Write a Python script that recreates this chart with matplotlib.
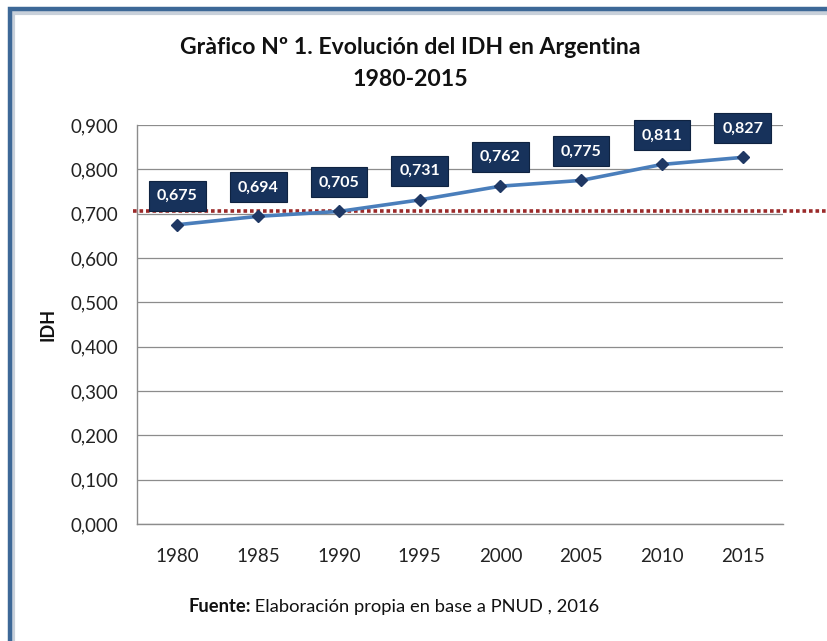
import numpy as np
import matplotlib
matplotlib.use("Agg")
import matplotlib.pyplot as plt
import matplotlib.patches as ptch
from matplotlib.ticker import FuncFormatter

# Datos: IDH de Argentina
anios = ["1980", "1985", "1990", "1995", "2000", "2005", "2010", "2015"]
idh = [0.675, 0.694, 0.705, 0.731, 0.762, 0.775, 0.811, 0.827]
umbral = 0.706
yticks = [0.0, 0.1, 0.2, 0.3, 0.4, 0.5, 0.6, 0.7, 0.8, 0.9]

plt.rcParams['font.family'] = ['Lato', 'DejaVu Sans']

W, H = 827, 641
fig = plt.figure(figsize=(W / 100, H / 100), dpi=100)

# Marco del gráfico (borde azul, se corta a la derecha y abajo)
sombra = ptch.Rectangle((13 / W, -0.1), 1.2, 1 - 13 / H + 0.1, transform=fig.transFigure,
                        fill=False, edgecolor='#c8d0da', linewidth=3, zorder=0)
fig.add_artist(sombra)
marco = ptch.Rectangle((10 / W, -0.1), 1.2, 1 - 9 / H + 0.1, transform=fig.transFigure,
                       fill=False, edgecolor='#3d6897', linewidth=3.2, zorder=1)
fig.add_artist(marco)

ax = fig.add_axes([137 / W, 1 - 524 / H, (783 - 137) / W, (524 - 125) / H])
x = np.arange(len(anios))

ax.plot(x, idh, color='#4a7ebb', linewidth=2.6, marker='D', markersize=6.5,
        markerfacecolor='#1f3864', markeredgecolor='#1f3864', zorder=4)

# Línea de referencia punteada
ax.axhline(umbral, xmin=-0.006, xmax=1.1, clip_on=False, color='#9b2a2a',
           linewidth=2.6, linestyle=(0, (1, 0.8)), zorder=3)

# Etiquetas de datos
for xi, v in zip(x, idh):
    ax.annotate(f"{v:.3f}".replace('.', ','), (xi, v), xytext=(0, 29),
                textcoords='offset pixels', ha='center', va='center',
                color='white', fontsize=11.5, fontweight='bold',
                bbox=dict(boxstyle='square,pad=0.5', facecolor='#17325b',
                          edgecolor='#0f2341', linewidth=0.8), zorder=5)

ax.set_xlim(-0.5, len(anios) - 0.5)
ax.set_ylim(0, 0.9)
ax.set_xticks(x)
ax.set_xticklabels(anios)
ax.set_yticks(yticks)
ax.yaxis.set_major_formatter(FuncFormatter(lambda v, p: f"{v:.3f}".replace('.', ',')))
ax.tick_params(axis='both', length=0, labelsize=13.5, colors='#222222')
ax.tick_params(axis='y', pad=13.7)
ax.tick_params(axis='x', pad=17)
ax.grid(axis='y', color='#8c8c8c', linewidth=0.9)
ax.set_axisbelow(True)
for s in ['top', 'right']:
    ax.spines[s].set_visible(False)
for s in ['left', 'bottom']:
    ax.spines[s].set_color('#8c8c8c')
    ax.spines[s].set_linewidth(1.0)

fig.text(48 / W, 1 - 324 / H, "IDH", rotation=90, ha='center', va='center',
         fontsize=13, fontweight='bold', color='#111111')

fig.text(410 / W, 1 - 47 / H, "Gràfico Nº 1. Evolución del IDH en Argentina",
         ha='center', va='center', fontsize=16.6, fontweight='bold', color='#111111')
fig.text(410 / W, 1 - 79 / H, "1980-2015",
         ha='center', va='center', fontsize=16.6, fontweight='bold', color='#111111')

t1 = fig.text(188 / W, 1 - 607 / H, "Fuente:", ha='left', va='center',
              fontsize=13.2, fontweight='bold', color='#111111')
fig.canvas.draw()
bb = t1.get_window_extent()
fig.text(bb.x1 / W, 1 - 607 / H, " Elaboración propia en base a PNUD , 2016",
         ha='left', va='center', fontsize=13.2, color='#111111')

fig.savefig("out.png", dpi=100)
